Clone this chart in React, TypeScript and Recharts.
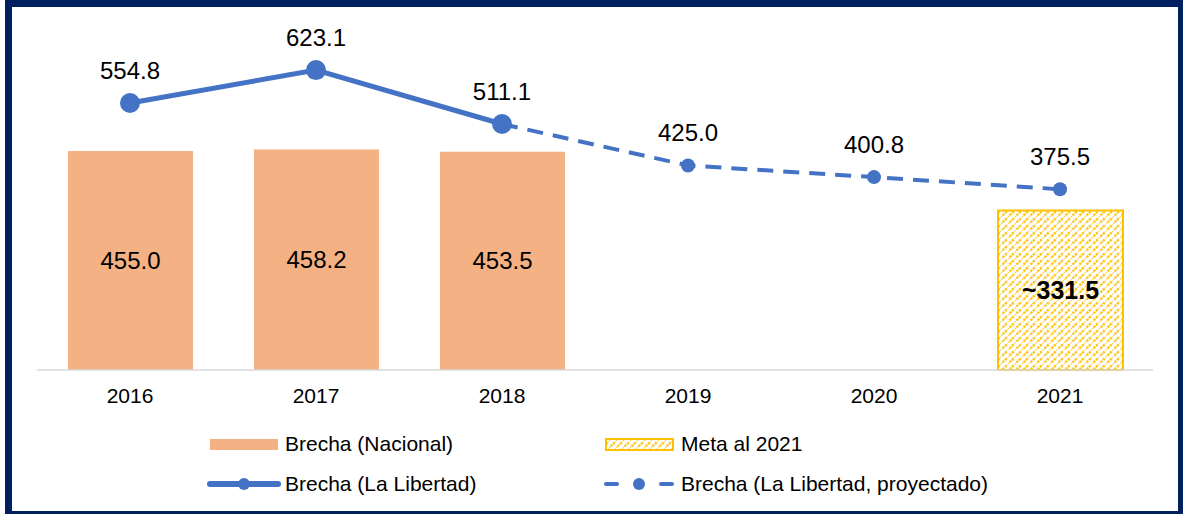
import React from 'react';
import { ComposedChart, Bar, Line, XAxis, YAxis, LabelList } from 'recharts';

const years = ['2016', '2017', '2018', '2019', '2020', '2021'];
const brechaNacional = [455.0, 458.2, 453.5, null, null, null];
const metaAl2021 = [null, null, null, null, null, 331.5];
const brechaLaLibertad = [554.8, 623.1, 511.1, null, null, null];
const brechaProyectado = [null, null, 511.1, 425.0, 400.8, 375.5];

const BLUE = '#4472C4';
const ORANGE = '#F4B183';
const GOLD = '#FFC000';
const FONT = '"Liberation Sans", Arial, sans-serif';

const data = years.map((year, i) => ({
  year,
  nacional: brechaNacional[i],
  meta: metaAl2021[i],
  libertad: brechaLaLibertad[i],
  proyectado: brechaProyectado[i],
}));

const fmt = (v: any) => (v == null ? '' : Number(v).toFixed(1));

// labels above line points; skip indexes already labelled by the other series
const lineLabel = (skip: number[]) => (props: any) => {
  const { x, y, value, index } = props;
  if (value == null || skip.includes(index)) return null;
  return (
    <text x={x} y={y - 24} textAnchor="middle" fontSize={24} fontFamily={FONT} fill="#000">
      {fmt(value)}
    </text>
  );
};

const HatchDefs = ({ id }: { id: string }) => (
  <pattern id={id} width="7" height="7" patternUnits="userSpaceOnUse">
    <rect width="7" height="7" fill="#fff" />
    <path d="M-1,8 L8,-1" stroke={GOLD} strokeWidth="2.4" strokeOpacity="0.9" strokeDasharray="2.5 1" />
  </pattern>
);

const Legend = () => (
  <svg width={1183} height={514} style={{ position: 'absolute', left: 0, top: 0, pointerEvents: 'none' }}>
    <defs>
      <HatchDefs id="hatchLegend" />
    </defs>
    <rect x={210} y={439} width={68} height={11} fill={ORANGE} />
    <text x={285} y={451} fontSize={21} fontFamily={FONT} fill="#000">Brecha (Nacional)</text>

    <rect x={606} y={439} width={67} height={11} fill="url(#hatchLegend)" stroke={GOLD} strokeWidth={2} />
    <text x={681} y={451} fontSize={21} fontFamily={FONT} fill="#000">Meta al 2021</text>

    <line x1={210} y1={484} x2={278} y2={484} stroke={BLUE} strokeWidth={6} strokeLinecap="round" />
    <circle cx={244} cy={484} r={6} fill={BLUE} />
    <text x={285} y={491} fontSize={21} fontFamily={FONT} fill="#000">Brecha (La Libertad)</text>

    <line x1={606} y1={484} x2={617} y2={484} stroke={BLUE} strokeWidth={4} strokeLinecap="round" />
    <circle cx={639} cy={484} r={6} fill={BLUE} />
    <line x1={661} y1={484} x2={672} y2={484} stroke={BLUE} strokeWidth={4} strokeLinecap="round" />
    <text x={681} y={491} fontSize={21} fontFamily={FONT} fill="#000">Brecha (La Libertad, proyectado)</text>
  </svg>
);

export default function App() {
  return (
    <div style={{ position: 'absolute', left: 0, top: 0, width: 1183, height: 514, overflow: 'hidden', background: '#fff' }}>
      <div
        style={{
          position: 'absolute',
          left: 5,
          top: 0,
          width: 1180,
          height: 518,
          boxSizing: 'border-box',
          border: '7px solid #002060',
        }}
      />
      <ComposedChart
        width={1183}
        height={514}
        data={data}
        margin={{ top: 9, right: 30, bottom: 104, left: 37 }}
        style={{ position: 'absolute', left: 0, top: 0 }}
      >
        <defs>
          <HatchDefs id="hatchBar" />
        </defs>
        <XAxis
          dataKey="year"
          height={40}
          tickLine={false}
          tickSize={6}
          tickMargin={12}
          axisLine={{ stroke: '#D9D9D9', strokeWidth: 1.5 }}
          tick={{ fontSize: 21, fontFamily: FONT, fill: '#000' }}
        />
        <YAxis hide domain={[0, 750]} />
        <Bar dataKey="nacional" stackId="a" barSize={125} fill={ORANGE} isAnimationActive={false}>
          <LabelList
            dataKey="nacional"
            position="center"
            formatter={fmt}
            style={{ fontSize: 24, fontFamily: FONT, fill: '#000' }}
          />
        </Bar>
        <Bar
          dataKey="meta"
          stackId="a"
          barSize={125}
          fill="url(#hatchBar)"
          stroke={GOLD}
          strokeWidth={2}
          isAnimationActive={false}
        >
          <LabelList
            dataKey="meta"
            position="center"
            formatter={(v: any) => (v == null ? '' : '~' + fmt(v))}
            style={{ fontSize: 25, fontFamily: FONT, fill: '#000', fontWeight: 700 }}
          />
        </Bar>
        <Line
          dataKey="proyectado"
          stroke={BLUE}
          strokeWidth={4}
          strokeDasharray="16 10"
          dot={{ r: 7, fill: BLUE, stroke: 'none' }}
          activeDot={false}
          connectNulls={false}
          isAnimationActive={false}
          label={lineLabel([2])}
        />
        <Line
          dataKey="libertad"
          stroke={BLUE}
          strokeWidth={5}
          dot={{ r: 10, fill: BLUE, stroke: 'none' }}
          activeDot={false}
          isAnimationActive={false}
          label={lineLabel([])}
        />
      </ComposedChart>
      <Legend />
    </div>
  );
}
